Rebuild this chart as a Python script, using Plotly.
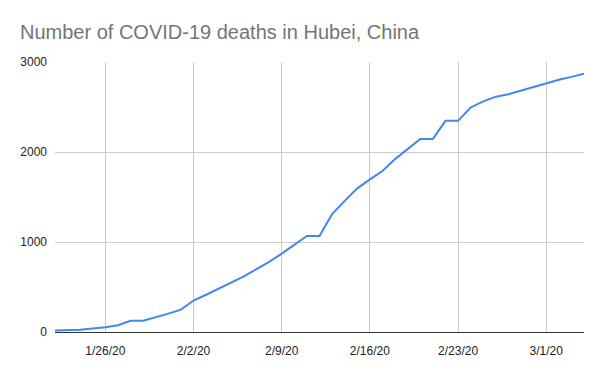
import plotly.graph_objects as go
import pandas as pd

dates = pd.date_range("2020-01-22", "2020-03-04", freq="D")
deaths = [17, 17, 24, 40, 52, 76, 125, 125, 162, 204, 249, 350, 414, 479, 549,
          618, 699, 780, 871, 974, 1068, 1068, 1310, 1457, 1596, 1696, 1789,
          1921, 2029, 2144, 2144, 2346, 2346, 2495, 2563, 2615, 2641, 2682,
          2727, 2761, 2803, 2835, 2871]
tick_dates = ["2020-01-26", "2020-02-02", "2020-02-09", "2020-02-16", "2020-02-23", "2020-03-01"]
tick_labels = ["1/26/20", "2/2/20", "2/9/20", "2/16/20", "2/23/20", "3/1/20"]
y_ticks = [0, 1000, 2000, 3000]

fig = go.Figure(go.Scatter(x=dates, y=deaths, mode="lines",
                           line=dict(color="#4285F4", width=2), hoverinfo="skip"))

# page body has a default 8px margin, so offsets are compensated
fig.update_layout(
    width=600, height=371,
    margin=dict(l=44, r=24, t=54, b=47),
    paper_bgcolor="white", plot_bgcolor="white",
    font=dict(family="Liberation Sans, Arial", size=12, color="#222222"),
    title=dict(text="Number of COVID-19 deaths in Hubei, China",
               x=12/600, xanchor="left", y=1-24/371, yanchor="middle",
               font=dict(size=20, color="#757575")),
    showlegend=False,
)
fig.update_xaxes(range=["2020-01-22", "2020-03-04"], tickvals=tick_dates, ticktext=tick_labels,
                 showgrid=True, gridcolor="#cccccc", gridwidth=1, zeroline=False,
                 showline=True, linecolor="#333333", linewidth=1, ticks="", ticklabelstandoff=8)
fig.update_yaxes(range=[0, 3000], tickvals=y_ticks, showgrid=True, gridcolor="#cccccc",
                 zeroline=False, showline=False, ticks="", ticklabelstandoff=7)

fig.write_html("out.html")
